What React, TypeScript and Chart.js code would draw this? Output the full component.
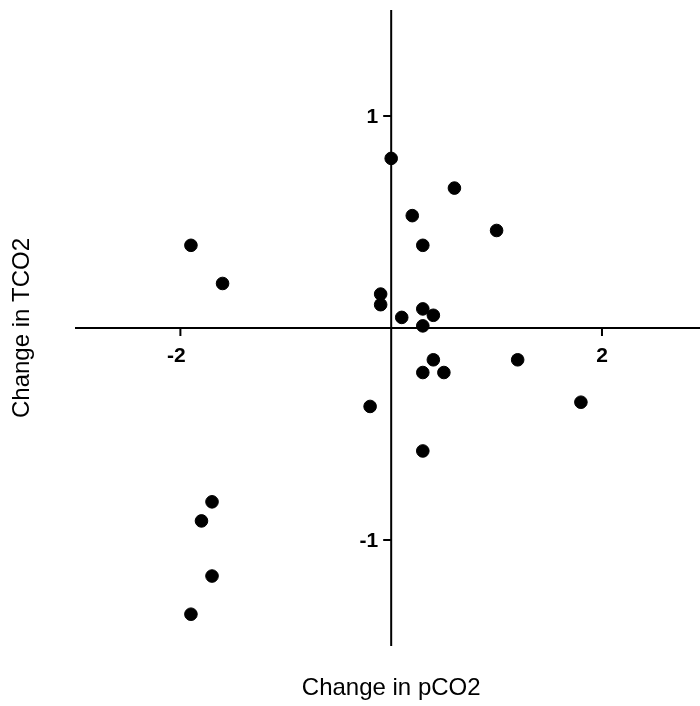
import React, { useEffect, useRef } from "react";
import { Chart, registerables } from "chart.js";

Chart.register(...registerables);

const xValues = [0.0, 0.6, 0.2, 1.0, 0.3, -0.1, -0.1, 0.1, 0.3, 0.4, 0.3, 0.4, 0.3, 0.5, 1.2, -1.9, -1.6, -1.7, -1.8, -1.7, -1.9, 1.8, -0.2, 0.3];
const yValues = [0.8, 0.66, 0.53, 0.46, 0.39, 0.16, 0.11, 0.05, 0.09, 0.06, 0.01, -0.15, -0.21, -0.21, -0.15, 0.39, 0.21, -0.82, -0.91, -1.17, -1.35, -0.35, -0.37, -0.58];
const xTickValues = [-2, 2];
const yTickValues = [1, -1];
const xTitle = "Change in pCO2";
const yTitle = "Change in TCO2";

const FONT = "'Liberation Sans', Arial, sans-serif";

const axesPlugin = {
  id: "crossAxes",
  beforeDatasetsDraw(chart: any) {
    const { ctx, chartArea, scales } = chart;
    const xs = scales.x;
    const ys = scales.y;
    const x0 = xs.getPixelForValue(0);
    const y0 = ys.getPixelForValue(0);
    ctx.save();
    ctx.strokeStyle = "#000";
    ctx.lineWidth = 2;
    ctx.beginPath();
    ctx.moveTo(chartArea.left, y0);
    ctx.lineTo(chartArea.right, y0);
    ctx.moveTo(x0, chartArea.top);
    ctx.lineTo(x0, chartArea.bottom);
    xTickValues.forEach((v) => {
      const px = xs.getPixelForValue(v);
      ctx.moveTo(px, y0);
      ctx.lineTo(px, y0 + 8);
    });
    yTickValues.forEach((v) => {
      const py = ys.getPixelForValue(v);
      ctx.moveTo(x0, py);
      ctx.lineTo(x0 - 8, py);
    });
    ctx.stroke();

    ctx.fillStyle = "#000";
    ctx.font = `bold 21px ${FONT}`;
    ctx.textAlign = "center";
    ctx.textBaseline = "middle";
    xTickValues.forEach((v) => {
      const px = xs.getPixelForValue(v);
      ctx.fillText(String(v), px - (v < 0 ? 4 : 0), y0 + 28);
    });
    ctx.textAlign = "right";
    yTickValues.forEach((v) => {
      const py = ys.getPixelForValue(v);
      ctx.fillText(String(v), x0 - 13, py + 1);
    });

    ctx.font = `24px ${FONT}`;
    ctx.textAlign = "center";
    ctx.fillText(xTitle, x0, 688);
    ctx.translate(22, y0);
    ctx.rotate(-Math.PI / 2);
    ctx.fillText(yTitle, 0, 0);
    ctx.restore();
  },
};

export default function App() {
  const ref = useRef<HTMLCanvasElement | null>(null);
  useEffect(() => {
    if (!ref.current) return;
    const chart = new Chart(ref.current, {
      type: "scatter",
      data: {
        datasets: [
          {
            data: xValues.map((x, i) => ({ x, y: yValues[i] })),
            backgroundColor: "#000",
            borderColor: "#000",
            pointRadius: 6.3,
            pointHoverRadius: 6.3,
          },
        ],
      },
      options: {
        responsive: false,
        animation: false,
        events: [],
        layout: { autoPadding: false, padding: { left: 75, right: 0, top: 10, bottom: 60 } },
        plugins: { legend: { display: false }, tooltip: { enabled: false } },
        scales: {
          x: { type: "linear", display: false, min: -3, max: 2.93 },
          y: { type: "linear", display: false, min: -1.5, max: 1.5 },
        },
      },
      plugins: [axesPlugin],
    });
    return () => chart.destroy();
  }, []);
  return (
    <canvas
      ref={ref}
      width={700}
      height={706}
      style={{ position: "fixed", left: 0, top: 0, width: 700, height: 706, background: "#fff" }}
    />
  );
}
